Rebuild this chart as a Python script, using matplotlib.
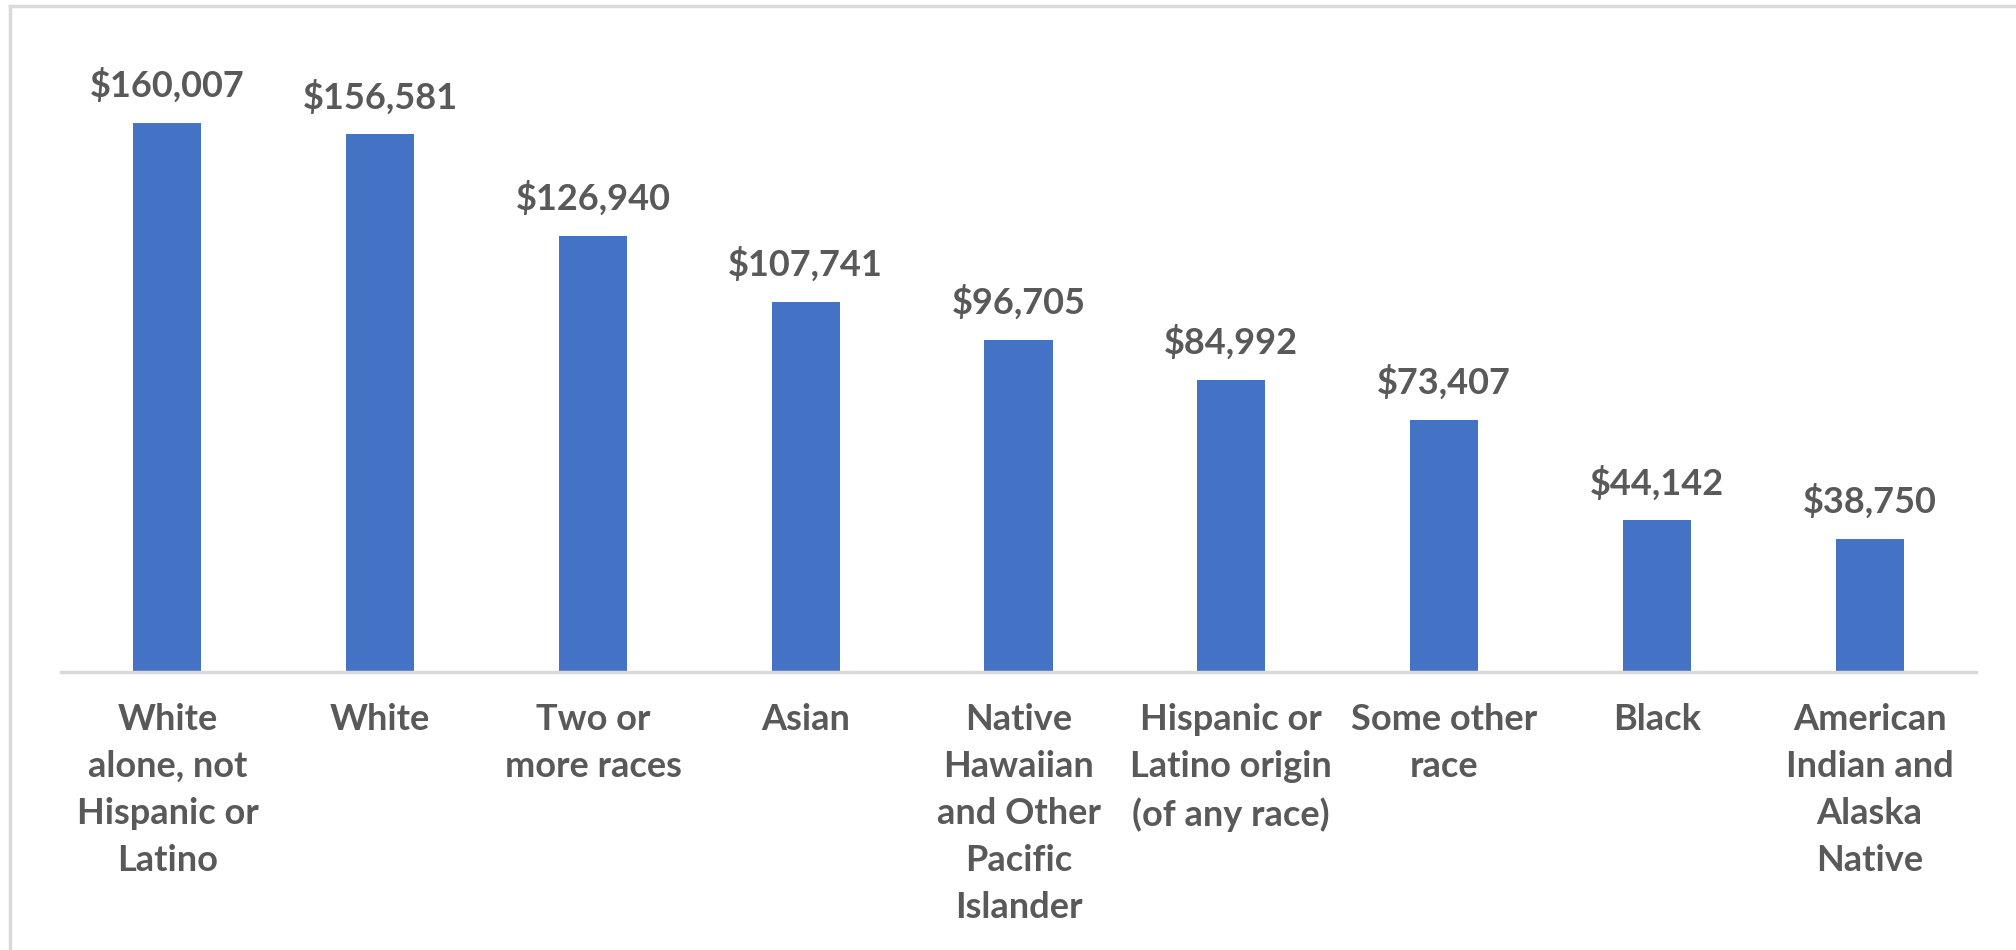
import matplotlib
matplotlib.use("Agg")
import matplotlib.pyplot as plt
from matplotlib.lines import Line2D

categories = [
    "White\nalone, not\nHispanic or\nLatino",
    "White",
    "Two or\nmore races",
    "Asian",
    "Native\nHawaiian\nand Other\nPacific\nIslander",
    "Hispanic or\nLatino origin\n(of any race)",
    "Some other\nrace",
    "Black",
    "American\nIndian and\nAlaska\nNative",
]
values = [160007, 156581, 126940, 107741, 96705, 84992, 73407, 44142, 38750]
value_labels = ["$160,007", "$156,581", "$126,940", "$107,741", "$96,705",
                "$84,992", "$73,407", "$44,142", "$38,750"]

W, H = 2016, 950
fig = plt.figure(figsize=(W / 100, H / 100), dpi=100)
fig.patch.set_facecolor("white")

left_px, right_px, base_px = 61, 1976, 672
scale = 549.3 / 160007  # px per dollar
ymax = 180000
ax = fig.add_axes([left_px / W, (H - base_px) / H,
                   (right_px - left_px) / W, ymax * scale / H])

text_color = "#595959"
x = list(range(len(categories)))
ax.bar(x, values, width=0.32, color="#4472C4", zorder=2)
ax.set_xlim(-0.5, len(categories) - 0.5)
ax.set_ylim(0, ymax)

for xi, v, lab in zip(x, values, value_labels):
    ax.annotate(lab, (xi, v), xytext=(0, 14.5), textcoords="offset points",
                ha="center", va="bottom", fontsize=26, fontweight="bold",
                color=text_color, family="Lato")

ax.set_xticks(x)
ax.set_xticklabels(categories, fontsize=26, fontweight="bold", color=text_color,
                   family="Lato", linespacing=1.52)
ax.tick_params(axis="x", length=0, pad=22)
ax.set_yticks([])
for s in ["top", "right", "left"]:
    ax.spines[s].set_visible(False)
ax.spines["bottom"].set_color("#D9D9D9")
ax.spines["bottom"].set_linewidth(2.5)

# chart-area border (top and left edges)
border = "#D9D9D9"
fig.add_artist(Line2D([10 / W, 1], [1 - 6 / H, 1 - 6 / H], color=border, lw=2.5,
                      transform=fig.transFigure))
fig.add_artist(Line2D([10 / W, 10 / W], [0, 1 - 6 / H], color=border, lw=2.5,
                      transform=fig.transFigure))

fig.savefig("out.png", dpi=100, facecolor="white")
